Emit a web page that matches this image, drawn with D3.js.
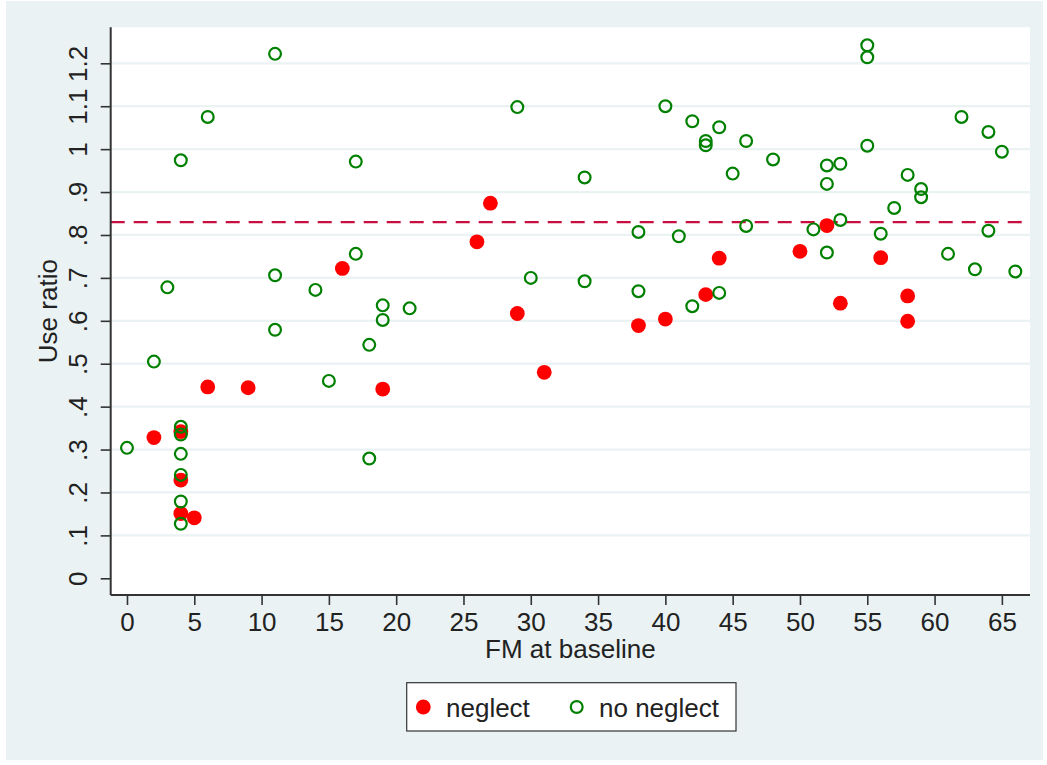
<!DOCTYPE html>
<html>
<head>
<meta charset="utf-8">
<script src="https://cdn.jsdelivr.net/npm/d3@7"></script>
<style>
  html, body { margin: 0; padding: 0; background: #ffffff; }
  svg { display: block; }
  text { font-family: "Liberation Sans", Arial, Helvetica, sans-serif; fill: #222; }
</style>
</head>
<body>
<svg id="chart" width="1047" height="765"></svg>
<script>
// FM at baseline vs. use ratio, split by neglect status
const neglectFM    = [2, 4, 4, 4, 5, 6, 9, 16, 19, 26, 27, 29, 31, 38, 40, 43, 44, 50, 52, 53, 56, 58, 58];
const neglectRatio = [.328, .342, .229, .151, .141, .446, .444, .722, .441, .784, .874, .617, .480,
                      .589, .604, .661, .746, .762, .822, .641, .747, .658, .599];

const noNeglectFM    = [0, 2, 3, 4, 4, 4, 4, 4, 4, 4, 6, 11, 11, 11, 14, 15, 17, 17, 18, 18, 19, 19, 21,
                        29, 30, 34, 34, 38, 38, 40, 41, 42, 42, 43, 43, 44, 44, 45, 46, 46, 48,
                        51, 52, 52, 52, 53, 53, 55, 55, 55, 56, 57, 58, 59, 59, 61, 62, 63, 64, 64, 65, 66];
const noNeglectRatio = [.304, .505, .678, .974, .353, .335, .290, .241, .179, .127, 1.075, 1.222, .706, .579,
                        .672, .460, .971, .756, .544, .279, .636, .602, .629,
                        1.098, .700, .934, .692, .807, .669, 1.100, .797, 1.065, .634, 1.019, 1.009, 1.051, .665,
                        .943, 1.019, .821, .976,
                        .813, .962, .919, .759, .966, .835, 1.242, 1.214, 1.008, .803, .863, .940, .907, .888,
                        .756, 1.075, .720, 1.040, .810, .994, .715];

const referenceRatio = 0.83;

const xTicks = [0, 5, 10, 15, 20, 25, 30, 35, 40, 45, 50, 55, 60, 65];
const yTicks = [0, .1, .2, .3, .4, .5, .6, .7, .8, .9, 1, 1.1, 1.2];
const yTickLabels = ["0", ".1", ".2", ".3", ".4", ".5", ".6", ".7", ".8", ".9", "1", "1.1", "1.2"];

const seriesNames = ["neglect", "no neglect"];

// ---- layout ----
const W = 1047, H = 765;
const plot = { left: 110.7, right: 1030, top: 27.3, bottom: 595 };
const BG = "#eaf2f3";
const RED = "#ff0000", GREEN = "#008000", REF = "#c81040";

const svg = d3.select("#chart");

// graph region background
svg.append("rect").attr("x", 6).attr("y", 1).attr("width", 1037).attr("height", 759).attr("fill", BG);

const x = d3.scaleLinear().domain([-1.21, 67.09]).range([plot.left, plot.right]);
const y = d3.scaleLinear().domain([-0.0389, 1.2839]).range([plot.bottom, plot.top]);

// plot region
svg.append("rect")
  .attr("x", plot.left).attr("y", plot.top)
  .attr("width", plot.right - plot.left).attr("height", plot.bottom - plot.top)
  .attr("fill", "#ffffff");

// horizontal grid lines (none at zero)
svg.append("g").selectAll("line")
  .data(yTicks.filter(d => d > 0))
  .join("line")
  .attr("x1", plot.left).attr("x2", plot.right)
  .attr("y1", d => y(d)).attr("y2", d => y(d))
  .attr("stroke", BG).attr("stroke-width", 2.2);

// reference line
svg.append("line")
  .attr("x1", plot.left).attr("x2", plot.right)
  .attr("y1", y(referenceRatio)).attr("y2", y(referenceRatio))
  .attr("stroke", REF).attr("stroke-width", 2.4)
  .attr("stroke-dasharray", "14,9");

// markers
const neglectPts = neglectFM.map((v, i) => ({ fm: v, r: neglectRatio[i] }));
const noNeglectPts = noNeglectFM.map((v, i) => ({ fm: v, r: noNeglectRatio[i] }));

svg.append("g").selectAll("circle")
  .data(neglectPts).join("circle")
  .attr("cx", d => x(d.fm)).attr("cy", d => y(d.r))
  .attr("r", 7.4).attr("fill", RED);

svg.append("g").selectAll("circle")
  .data(noNeglectPts).join("circle")
  .attr("cx", d => x(d.fm)).attr("cy", d => y(d.r))
  .attr("r", 5.9).attr("fill", "none")
  .attr("stroke", GREEN).attr("stroke-width", 2.2);

// y axis
const yAxis = d3.axisLeft(y).tickValues(yTicks).tickSize(10).tickPadding(14)
  .tickFormat((d, i) => yTickLabels[i]);
const gy = svg.append("g").attr("transform", `translate(${plot.left},0)`).call(yAxis);
gy.select(".domain").attr("stroke", "#333").attr("stroke-width", 2)
  .attr("d", `M0,${plot.top}V${plot.bottom}`);
gy.selectAll(".tick line").attr("stroke", "#333").attr("stroke-width", 1.6);
gy.selectAll(".tick text")
  .attr("font-size", 26).attr("fill", "#222")
  .attr("text-anchor", "middle")
  .attr("x", 0).attr("dy", 0)
  .attr("transform", "translate(-24,0) rotate(-90)");

// x axis
const xAxis = d3.axisBottom(x).tickValues(xTicks).tickSize(10).tickPadding(8)
  .tickFormat(d3.format("d"));
const gx = svg.append("g").attr("transform", `translate(0,${plot.bottom})`).call(xAxis);
gx.select(".domain").attr("stroke", "#333").attr("stroke-width", 2)
  .attr("d", `M${plot.left},0H${plot.right}`);
gx.selectAll(".tick line").attr("stroke", "#333").attr("stroke-width", 1.6);
gx.selectAll(".tick text").attr("font-size", 26).attr("fill", "#222");

// axis titles
svg.append("text")
  .attr("x", (plot.left + plot.right) / 2).attr("y", 658)
  .attr("text-anchor", "middle").attr("font-size", 26)
  .text("FM at baseline");

svg.append("text")
  .attr("transform", `translate(57,${(plot.top + plot.bottom) / 2}) rotate(-90)`)
  .attr("text-anchor", "middle").attr("font-size", 26)
  .text("Use ratio");

// legend
const lg = svg.append("g");
lg.append("rect")
  .attr("x", 406.7).attr("y", 682.7).attr("width", 329.3).attr("height", 48.3)
  .attr("fill", "#ffffff").attr("stroke", "#333").attr("stroke-width", 1.2);
lg.append("circle").attr("cx", 423.3).attr("cy", 707).attr("r", 7.4).attr("fill", RED);
lg.append("text").attr("x", 446).attr("y", 717).attr("font-size", 26).text(seriesNames[0]);
lg.append("circle").attr("cx", 576.7).attr("cy", 707).attr("r", 5.9)
  .attr("fill", "none").attr("stroke", GREEN).attr("stroke-width", 2.2);
lg.append("text").attr("x", 599).attr("y", 717).attr("font-size", 26).text(seriesNames[1]);
</script>
</body>
</html>
